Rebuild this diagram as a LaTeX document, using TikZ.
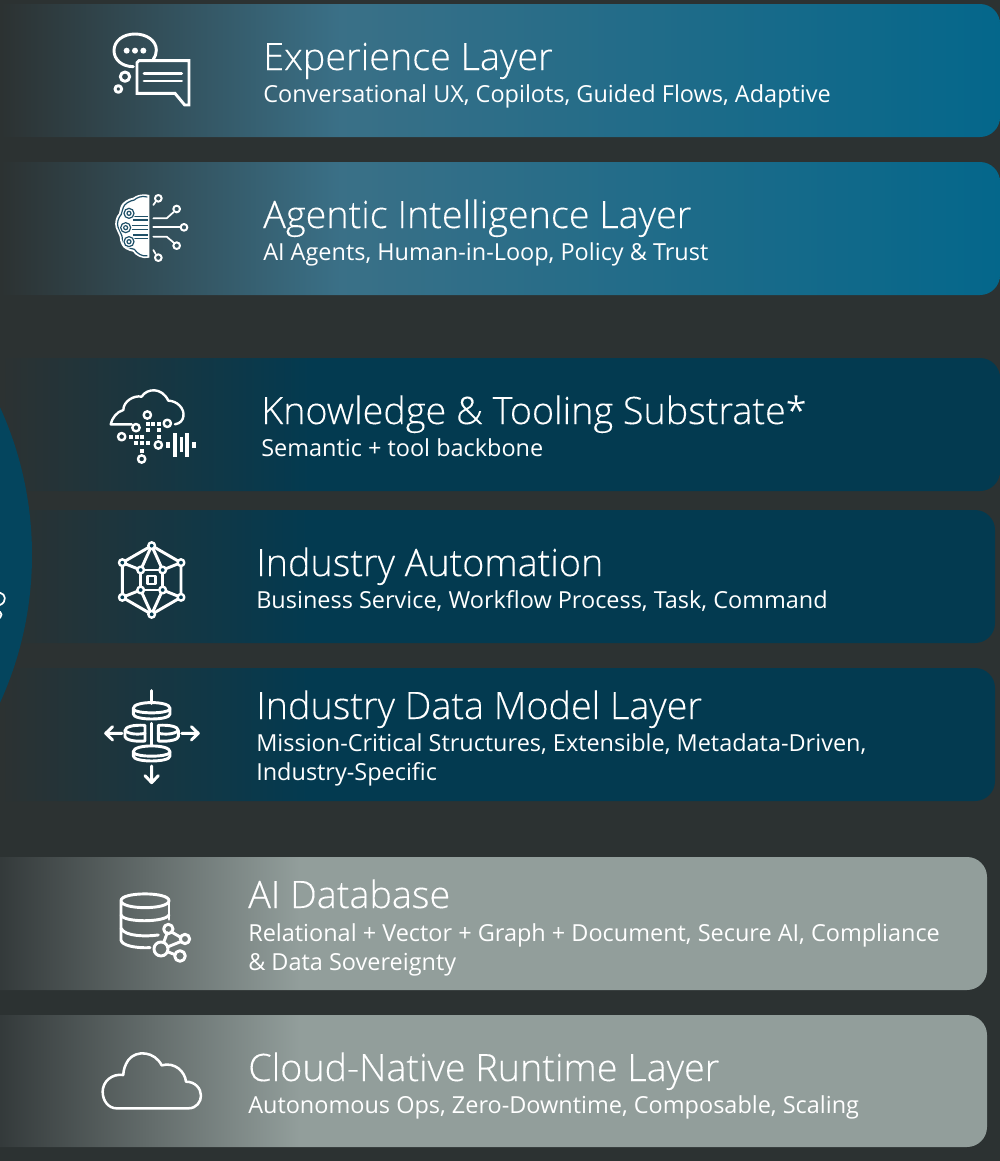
\documentclass[tikz,border=0pt]{standalone}
\usepackage{fontspec}
\setmainfont{Open Sans}[UprightFont=* Light, RawFeature={embolden=0.2}]
\newfontfamily\subfont{Open Sans}
\definecolor{bgdark}{HTML}{2C3232}
\definecolor{tealmid}{HTML}{3A7087}
\definecolor{tealend}{HTML}{04678B}
\definecolor{navyend}{HTML}{033A50}
\definecolor{navydisc}{HTML}{04455E}
\definecolor{greystart}{HTML}{343A3B}
\definecolor{greyend}{HTML}{929E9B}
\definecolor{brainline}{HTML}{1F5068}
\pgfdeclarehorizontalshading{tealbar}{100bp}{color(0bp)=(bgdark); color(26.5bp)=(bgdark); color(43bp)=(tealmid); color(75bp)=(tealend); color(100bp)=(tealend)}
\pgfdeclarehorizontalshading{navybar}{100bp}{color(0bp)=(bgdark); color(26.5bp)=(bgdark); color(41.5bp)=(navyend); color(100bp)=(navyend)}
\pgfdeclarehorizontalshading{greybar}{100bp}{color(0bp)=(greystart); color(26.5bp)=(greystart); color(41.2bp)=(greyend); color(100bp)=(greyend)}
\tikzset{
	layerbar/.style={rounded corners=15pt},
	layertitle/.style={anchor=base west, inner sep=0pt, text=white, font=\fontsize{28.3}{28}\selectfont},
	layersub/.style={anchor=base west, inner sep=0pt, text=white, font=\subfont\fontsize{17.6}{22}\selectfont},
	iconline/.style={draw=white, line width=2.2pt, line cap=round, line join=round},
	thinline/.style={draw=white, line width=1.3pt, line cap=round, line join=round},
	brainstroke/.style={draw=brainline, line width=0.9pt}
}
\begin{document}
\begin{tikzpicture}[x=0.75pt,y=-0.75pt]
	\path[use as bounding box, clip] (0,0) rectangle (1000,1161);
	\fill[bgdark] (0,0) rectangle (1000,1161);
	% bars
	\shade[layerbar, shading=tealbar] (-30,4) rectangle (1000,137);
	\shade[layerbar, shading=tealbar] (-30,162) rectangle (1000,295);
	\shade[layerbar, shading=navybar] (-30,358) rectangle (1000,491);
	\shade[layerbar, shading=navybar] (-30,510) rectangle (995,643);
	\shade[layerbar, shading=navybar] (-30,668) rectangle (995,801);
	\shade[layerbar, shading=greybar] (-30,857) rectangle (987,990);
	\shade[layerbar, shading=greybar] (-30,1015) rectangle (987,1147);
	% disc at the left edge
	\fill[navydisc] (-324,555) circle [radius=356];
	\draw[thinline] (0,592.7) .. controls (6,594) and (7,602) .. (0,605);
	\draw[thinline] (0,611.7) .. controls (2,613) and (2,616) .. (0,618);
	% labels
	\node[layertitle] (experience) at (263,70) {Experience Layer};
	\node[layersub] (experiencesub) at (263,102) {Conversational UX, Copilots, Guided Flows, Adaptive};
	\node[layertitle] (agentic) at (263,228) {Agentic Intelligence Layer};
	\node[layersub] (agenticsub) at (263,260) {AI Agents, Human-in-Loop, Policy \& Trust};
	\node[layertitle] (knowledge) at (261,424) {Knowledge \& Tooling Substrate*};
	\node[layersub] (knowledgesub) at (261,456) {Semantic + tool backbone};
	\node[layertitle] (automation) at (256,576) {Industry Automation};
	\node[layersub] (automationsub) at (256,608) {Business Service, Workflow Process, Task, Command};
	\node[layertitle] (datamodel) at (256,719) {Industry Data Model Layer};
	\node[layersub] (datamodelsub) at (256,751) {Mission-Critical Structures, Extensible, Metadata-Driven,};
	\node[layersub] (datamodelsubb) at (256,780) {Industry-Specific};
	\node[layertitle] (database) at (248,908) {AI Database};
	\node[layersub] (databasesub) at (248,941) {Relational + Vector + Graph + Document, Secure AI, Compliance};
	\node[layersub] (databasesubb) at (248,970) {\& Data Sovereignty};
	\node[layertitle] (runtime) at (248,1081) {Cloud-Native Runtime Layer};
	\node[layersub] (runtimesub) at (248,1113) {Autonomous Ops, Zero-Downtime, Composable, Scaling};
	% chat icon
	\begin{scope}[shift={(90,20)},scale=0.3333]
		\draw[iconline] (130,140) .. controls (95,140) and (72,118) .. (72,92) .. controls (72,62) and (100,42) .. (135,42) .. controls (170,42) and (199,62) .. (199,90) .. controls (199,100) and (196,110) .. (190,118);
		\draw[iconline, line join=miter] (147,122) -- (297,122) -- (297,255) -- (284,255) -- (255,220) -- (141,220) -- (141,128) -- cycle;
		\draw[iconline] (105,170) circle [radius=14];
		\draw[iconline] (85,207) circle [radius=10];
		\fill[white] (110,92) circle [radius=9] (135,92) circle [radius=9] (160,92) circle [radius=9];
		\draw[iconline] (162,160) -- (275,160);
		\draw[iconline] (162,183) -- (275,183);
	\end{scope}
	% brain icon
	\begin{scope}[shift={(105,185)},scale=0.3333]
		\fill[white] (133,30) .. controls (110,24) and (92,32) .. (85,38) .. controls (70,40) and (52,52) .. (48,62) .. controls (44,72) and (44,80) .. (42,85) .. controls (32,95) and (28,115) .. (32,128) .. controls (34,138) and (42,145) .. (44,155) .. controls (44,170) and (52,188) .. (62,192) .. controls (70,198) and (78,198) .. (84,200) .. controls (92,212) and (112,224) .. (133,218) -- cycle;
		\draw[brainstroke] (127,36) .. controls (110,31) and (95,38) .. (88,45) .. controls (74,47) and (58,57) .. (55,67) .. controls (51,76) and (51,84) .. (49,88) .. controls (40,98) and (35,114) .. (39,126) .. controls (41,135) and (49,143) .. (51,153) .. controls (51,166) and (58,181) .. (66,185) .. controls (73,190) and (81,191) .. (88,193) .. controls (96,205) and (112,216) .. (127,212);
		\draw[brainstroke] (85,95) -- (128,95) (85,105) -- (128,105) (80,122) -- (128,122) (80,133) -- (128,133) (85,150) -- (128,150) (85,160) -- (128,160);
		\foreach \cx/\cy in {72/85,62/128,72/170} {
			\fill[white] (\cx,\cy) circle [radius=19];
			\draw[brainstroke] (\cx,\cy) circle [radius=15];
			\draw[brainstroke] (\cx,\cy) circle [radius=6];
		}
		\draw[thinline] (145,100) -- (185,100) -- (205,82);
		\draw[thinline] (145,127) -- (225,127);
		\draw[thinline] (145,155) -- (185,155) -- (205,172);
		\draw[thinline] (145,60) -- (152,50);
		\draw[thinline] (145,195) -- (152,207);
		\foreach \cx/\cy in {160/40,215/72,237/127,215/182,160/218}
			\draw[thinline, line width=1.5pt] (\cx,\cy) circle [radius=10];
	\end{scope}
	% cloud with data icon
	\begin{scope}[shift={(90,380)},scale=0.3333]
		\draw[iconline, line width=1.8pt] (125,133) -- (62,133) .. controls (66,115) and (80,95) .. (100,90) .. controls (100,65) and (130,45) .. (155,50) .. controls (170,25) and (215,20) .. (235,62) .. controls (260,62) and (285,85) .. (280,110) .. controls (278,120) and (272,130) .. (255,133);
		\foreach \cx/\cy in {172/105,138/143,232/130,95/170,205/195,155/237}
			\draw[iconline, line width=1.8pt] (\cx,\cy) circle [radius=11];
		\foreach \cx/\cy in {175/132,190/132,207/132,175/150,207/150,123/170,140/170,157/170,207/170,138/188,157/188,175/188,155/212}
			\fill[white] (\cx-6,\cy-6) rectangle (\cx+6,\cy+6);
		\foreach \cx/\ya/\yb in {234/185/205,255/158/230,275/170/215,291/160/230,312/185/205}
			\fill[white] (\cx-5.5,\ya) rectangle (\cx+5.5,\yb);
	\end{scope}
	% hexagon icon
	\begin{scope}[shift={(90,380)},scale=0.3333]
		\draw[iconline] (185,497) -- (273,548) -- (273,652) -- (185,703) -- (97,652) -- (97,548) -- cycle;
		\draw[iconline] (152,570) rectangle (218,630);
		\draw[iconline] (172,588) rectangle (196,612);
		\draw[iconline] (185,497) -- (152,570) -- (97,548) (185,497) -- (218,570) -- (273,548);
		\draw[iconline] (185,703) -- (152,630) -- (97,652) (185,703) -- (218,630) -- (273,652);
		\foreach \cx/\cy in {185/497,273/548,273/652,185/703,97/652,97/548,152/570,218/570,218/630,152/630}
			\filldraw[iconline, line width=1.8pt, fill=navyend] (\cx,\cy) circle [radius=10];
	\end{scope}
	% disks icon
	\begin{scope}[shift={(90,680)},scale=0.3333]
		\draw[iconline] (185,32) -- (185,70);
		\draw[iconline] (130,85) .. controls (130,62) and (240,62) .. (240,85) -- (240,102) .. controls (240,122) and (130,122) .. (130,102) -- cycle;
		\draw[iconline] (130,88) .. controls (140,102) and (230,102) .. (240,88);
		\draw[iconline] (130,215) .. controls (130,192) and (240,192) .. (240,215) -- (240,228) .. controls (240,248) and (130,248) .. (130,228) -- cycle;
		\draw[iconline] (130,218) .. controls (140,232) and (230,232) .. (240,218);
		\draw[iconline] (165,136) .. controls (130,134) and (105,140) .. (105,152) -- (105,170) .. controls (105,178) and (130,186) .. (165,183) -- cycle;
		\draw[iconline] (205,136) .. controls (240,134) and (265,140) .. (265,152) -- (265,170) .. controls (265,178) and (240,186) .. (205,183) -- cycle;
		\draw[iconline] (105,152) .. controls (120,165) and (150,163) .. (165,160) (205,160) .. controls (220,163) and (250,165) .. (265,152);
		\draw[iconline] (185,130) -- (185,195);
		\draw[iconline] (96,160) -- (47,160) (68,140) -- (47,160) -- (68,180);
		\draw[iconline] (275,160) -- (325,160) (304,140) -- (325,160) -- (304,180);
		\draw[iconline] (185,258) -- (185,308) (165,287) -- (185,308) -- (205,287);
	\end{scope}
	% database icon
	\begin{scope}[shift={(90,680)},scale=0.3333]
		\draw[iconline] (93,662) .. controls (93,635) and (237,635) .. (237,662) .. controls (237,690) and (93,690) .. (93,662) -- (93,780) .. controls (95,795) and (130,805) .. (180,803);
		\draw[iconline] (93,705) .. controls (100,728) and (225,728) .. (237,705);
		\draw[iconline] (93,745) .. controls (105,770) and (170,770) .. (205,765);
		\draw[iconline] (237,662) -- (237,718);
		\draw[iconline] (232,758) -- (222,785) (243,755) -- (272,772) (235,800) -- (272,785) (232,815) -- (255,824);
		\draw[iconline] (235,747) circle [radius=14];
		\draw[iconline] (285,777) circle [radius=14];
		\draw[iconline] (213,807) circle [radius=21];
		\draw[iconline] (270,828) circle [radius=16];
	\end{scope}
	% cloud icon
	\begin{scope}[shift={(90,1030)},scale=0.3333]
		\draw[iconline, line width=1.9pt] (80,235) -- (295,235) .. controls (320,235) and (333,215) .. (333,197) .. controls (333,175) and (315,155) .. (288,155) .. controls (285,125) and (255,95) .. (215,106) .. controls (195,65) and (140,58) .. (115,90) .. controls (105,105) and (100,120) .. (100,135) .. controls (65,130) and (38,155) .. (38,185) .. controls (38,212) and (55,235) .. (80,235) -- cycle;
	\end{scope}
\end{tikzpicture}
\end{document}
